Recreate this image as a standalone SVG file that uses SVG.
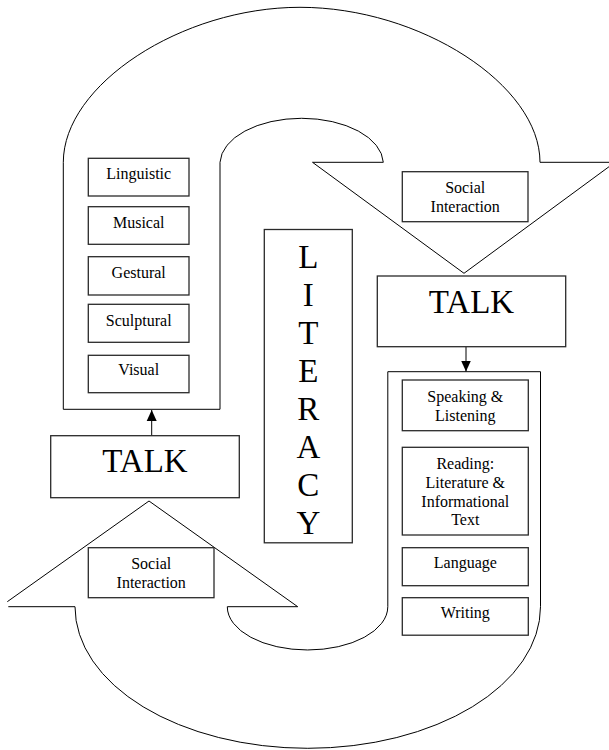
<svg xmlns="http://www.w3.org/2000/svg" width="609" height="750" viewBox="0 0 609 750">
<style>
.shape{fill:#fff;stroke:#000;stroke-width:1;stroke-linejoin:miter}
.box{fill:#fff;stroke:#2a2a2a;stroke-width:1.3}
.sm{font-family:"Liberation Serif","Times New Roman",serif;font-size:16px;fill:#000;text-anchor:middle}
.big{font-family:"Liberation Serif","Times New Roman",serif;font-size:33px;fill:#000;text-anchor:middle}
.conn{stroke:#000;stroke-width:1;fill:none}
</style>
<defs>
<marker id="ah" markerUnits="userSpaceOnUse" markerWidth="12" markerHeight="12" viewBox="0 0 12 12" refX="11" refY="6" orient="auto">
<path d="M0,1 L11,6 L0,11 Z" fill="#000"/>
</marker>
</defs>
<rect width="609" height="750" fill="#fff"/>
<g id="top-arrow">
<path class="shape" d="M220,409.3 L63.3,409.3 L63.3,162.3 C63.3,84.8 181.6,7.3 300,7.3 C420,7.3 540,84.8 540,162.3 L615,162.3 L464,273.3 L312.5,162.3 L383.3,162.3 A81.7,45.6 0 0 0 220,162.3 Z"/>
</g>
<g id="bottom-arrow">
<path class="shape" d="M8.3,606.7 L75,606.7 A232.75,141.6 0 0 0 540.5,606.7 L540.5,371.7 L387.8,371.7 L387.8,606.7 A80.25,43.3 0 0 1 227.3,606.7 L297.7,606.7 L149,501 L7.3,601.7"/>
</g>
<g id="connectors">
<line class="conn" x1="151.7" y1="435.7" x2="151.7" y2="410" marker-end="url(#ah)"/>
<line class="conn" x1="466" y1="346.7" x2="466" y2="371.5" marker-end="url(#ah)"/>
</g>
<g id="linguistic"><rect class="box" x="88.3" y="158.3" width="100.7" height="37.7"/><text class="sm" x="138.7" y="179.3">Linguistic</text></g>
<g id="musical"><rect class="box" x="88.3" y="206.7" width="100.7" height="37.6"/><text class="sm" x="138.7" y="227.7">Musical</text></g>
<g id="gestural"><rect class="box" x="88.3" y="256.7" width="100.7" height="38.3"/><text class="sm" x="138.7" y="277.7">Gestural</text></g>
<g id="sculptural"><rect class="box" x="88.3" y="304.3" width="100.7" height="38"/><text class="sm" x="138.7" y="326">Sculptural</text></g>
<g id="visual"><rect class="box" x="88.3" y="355.3" width="100.7" height="37.4"/><text class="sm" x="138.7" y="375">Visual</text></g>
<g id="social-top"><rect class="box" x="402.3" y="171.7" width="125.7" height="50"/><text class="sm" x="465.2" y="193.3">Social</text><text class="sm" x="465.2" y="211.7">Interaction</text></g>
<g id="talk-right"><rect class="box" x="377.3" y="276" width="188.4" height="70.7"/><text class="big" x="471.5" y="312.7">TALK</text></g>
<g id="talk-left"><rect class="box" x="50.7" y="435.7" width="188.6" height="62"/><text class="big" x="145" y="471.7">TALK</text></g>
<g id="literacy"><rect class="box" x="264.3" y="229.5" width="88" height="313.3"/>
<text class="big" x="308.3" y="268">L</text>
<text class="big" x="308.3" y="306">I</text>
<text class="big" x="308.3" y="344">T</text>
<text class="big" x="308.3" y="382">E</text>
<text class="big" x="308.3" y="420">R</text>
<text class="big" x="308.3" y="458">A</text>
<text class="big" x="308.3" y="496">C</text>
<text class="big" x="308.3" y="534">Y</text>
</g>
<g id="social-bottom"><rect class="box" x="88.3" y="547.7" width="125.7" height="50"/><text class="sm" x="151.2" y="569.3">Social</text><text class="sm" x="151.2" y="587.7">Interaction</text></g>
<g id="speaking"><rect class="box" x="402.3" y="380" width="126" height="50.7"/><text class="sm" x="465.3" y="401.7">Speaking &amp;</text><text class="sm" x="465.3" y="420.5">Listening</text></g>
<g id="reading"><rect class="box" x="402.3" y="447.3" width="126" height="87.7"/><text class="sm" x="465.3" y="469.3">Reading:</text><text class="sm" x="465.3" y="488">Literature &amp;</text><text class="sm" x="465.3" y="506.6">Informational</text><text class="sm" x="465.3" y="525.2">Text</text></g>
<g id="language"><rect class="box" x="402.3" y="547.7" width="126" height="38"/><text class="sm" x="465.3" y="568.3">Language</text></g>
<g id="writing"><rect class="box" x="402.3" y="597.7" width="126" height="37.5"/><text class="sm" x="465.3" y="618.3">Writing</text></g>
</svg>
